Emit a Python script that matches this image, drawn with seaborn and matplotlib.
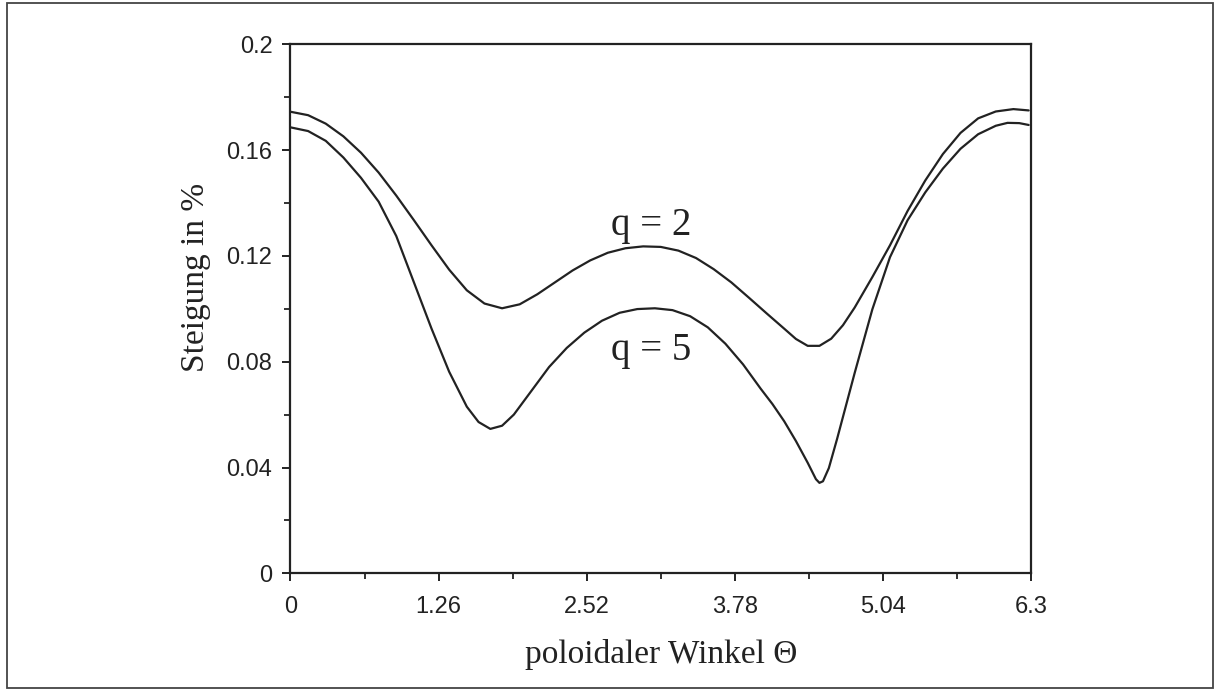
import numpy as np
import pandas as pd
import matplotlib
matplotlib.use("Agg")
import matplotlib.pyplot as plt
import seaborn as sns
from matplotlib.ticker import MultipleLocator, FixedLocator
from matplotlib.patches import Rectangle

# ---- data ----
theta_q2 = [0.00, 0.15, 0.30, 0.45, 0.60, 0.75, 0.90, 1.05, 1.20, 1.35,
            1.50, 1.65, 1.80, 1.95, 2.10, 2.25, 2.40, 2.55, 2.70, 2.85,
            3.00, 3.15, 3.30, 3.45, 3.60, 3.75, 3.90, 4.05, 4.20, 4.30,
            4.40, 4.50, 4.60, 4.70, 4.80, 4.95, 5.10, 5.25, 5.40, 5.55,
            5.70, 5.85, 6.00, 6.15, 6.28]
steig_q2 = [0.1745, 0.1732, 0.1700, 0.1652, 0.1590, 0.1515, 0.1428, 0.1335, 0.1240, 0.1148,
            0.1070, 0.1020, 0.1002, 0.1017, 0.1055, 0.1100, 0.1145, 0.1183, 0.1212, 0.1229,
            0.1236, 0.1234, 0.1220, 0.1192, 0.1150, 0.1100, 0.1042, 0.0983, 0.0925, 0.0886,
            0.0860, 0.0860, 0.0887, 0.0938, 0.1005, 0.1120, 0.1240, 0.1370, 0.1485, 0.1585,
            0.1665, 0.1720, 0.1746, 0.1755, 0.1750]

theta_q5 = [0.00, 0.15, 0.30, 0.45, 0.60, 0.75, 0.90, 1.05, 1.20, 1.35,
            1.50, 1.60, 1.70, 1.80, 1.90, 2.05, 2.20, 2.35, 2.50, 2.65,
            2.80, 2.95, 3.10, 3.25, 3.40, 3.55, 3.70, 3.85, 4.00, 4.10,
            4.20, 4.30, 4.40, 4.47, 4.50, 4.53, 4.58, 4.65, 4.80, 4.95,
            5.10, 5.25, 5.40, 5.55, 5.70, 5.85, 6.00, 6.10, 6.20, 6.28]
steig_q5 = [0.1686, 0.1672, 0.1635, 0.1572, 0.1495, 0.1405, 0.1275, 0.1100, 0.0925, 0.0762,
            0.0630, 0.0572, 0.0546, 0.0558, 0.0600, 0.0690, 0.0780, 0.0852, 0.0910, 0.0955,
            0.0985, 0.0999, 0.1002, 0.0995, 0.0972, 0.0930, 0.0868, 0.0790, 0.0698, 0.0640,
            0.0575, 0.0500, 0.0418, 0.0356, 0.0342, 0.0348, 0.0398, 0.0508, 0.0758, 0.0998,
            0.1195, 0.1335, 0.1440, 0.1530, 0.1605, 0.1660, 0.1692, 0.1703, 0.1702, 0.1695]

x_ticks = [0, 1.26, 2.52, 3.78, 5.04, 6.3]
x_tick_labels = ["0", "1.26", "2.52", "3.78", "5.04", "6.3"]
y_ticks = [0, 0.04, 0.08, 0.12, 0.16, 0.2]
y_tick_labels = ["0", "0.04", "0.08", "0.12", "0.16", "0.2"]

curve_labels = ["q = 2", "q = 5"]
label_pos = [(2.73, 0.1279), (2.73, 0.0806)]

x_label = "poloidaler Winkel \u0398"
y_label = "Steigung in %"

# ---- build long-form table ----
df = pd.concat([
    pd.DataFrame({"theta": theta_q2, "steigung": steig_q2, "q": "2"}),
    pd.DataFrame({"theta": theta_q5, "steigung": steig_q5, "q": "5"}),
], ignore_index=True)

sns.set_theme(style="white")
plt.rcParams["font.family"] = ["Liberation Sans", "DejaVu Sans"]

ink = "#222222"
fig = plt.figure(figsize=(12.19, 6.90), dpi=100)
ax = fig.add_axes([0.2383, 0.1691, 0.8458 - 0.2383, 0.9358 - 0.1691])

sns.lineplot(data=df, x="theta", y="steigung", hue="q", units="q",
             estimator=None, sort=False, palette=[ink, ink], legend=False,
             linewidth=1.6, ax=ax)
for ln in ax.lines:
    ln.set_solid_joinstyle("round")

ax.set_xlim(0, 6.3)
ax.set_ylim(0, 0.2)
ax.xaxis.set_major_locator(FixedLocator(x_ticks))
ax.set_xticklabels(x_tick_labels)
ax.yaxis.set_major_locator(FixedLocator(y_ticks))
ax.set_yticklabels(y_tick_labels)
ax.xaxis.set_minor_locator(MultipleLocator(0.63))
ax.yaxis.set_minor_locator(MultipleLocator(0.02))

ax.tick_params(axis="both", which="major", direction="out", length=6, width=1.4,
               color=ink, labelsize=17, labelcolor=ink, bottom=True, left=True)
ax.tick_params(axis="both", which="minor", direction="out", length=4.5, width=1.3,
               color=ink, bottom=True, left=True)
ax.tick_params(axis="x", which="major", pad=10)
ax.tick_params(axis="y", which="major", pad=7)

for sp in ax.spines.values():
    sp.set_visible(True)
    sp.set_color(ink)
    sp.set_linewidth(1.6)

serif = ["Liberation Serif", "DejaVu Serif"]
ax.set_xlabel(x_label, family=serif, fontsize=24, color=ink)
ax.xaxis.set_label_coords(0.5, -0.125)
ax.xaxis.label.set_va("top")

ax.set_ylabel(y_label, family=serif, fontsize=24, color=ink)
ax.yaxis.label.set_va("center")
ax.yaxis.set_label_coords(-0.128, 0.56)

for txt, (tx, ty) in zip(curve_labels, label_pos):
    ax.text(tx, ty, txt, family=serif, fontsize=28, color=ink,
            ha="left", va="baseline")

fig.patches.append(Rectangle((0.0057, 0.0029), 0.9951 - 0.0057, 0.9957 - 0.0029,
                             transform=fig.transFigure, fill=False,
                             edgecolor="#444444", linewidth=1.3))

fig.savefig("out.png", dpi=100)
